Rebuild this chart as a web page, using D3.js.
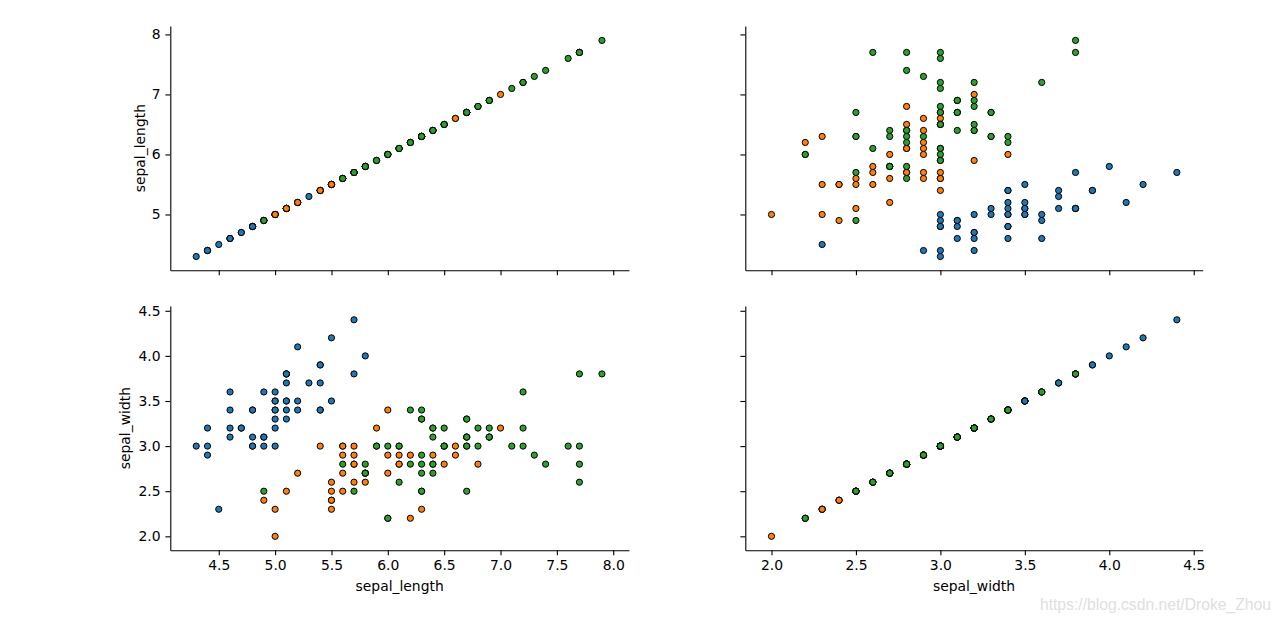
<!DOCTYPE html>
<html>
<head>
<meta charset="utf-8">
<script src="https://cdn.jsdelivr.net/npm/d3@7"></script>
<style>
  body { margin: 0; background: #fff; }
  svg { display: block; }
</style>
</head>
<body>
<svg id="chart" width="1280" height="623"></svg>
<script>
// iris: sepal_length / sepal_width per species
const species = ['setosa', 'versicolor', 'virginica'];
const colors = ['#1f77b4', '#ff7f0e', '#2ca02c'];

const setosaLength = [5.1,4.9,4.7,4.6,5.0,5.4,4.6,5.0,4.4,4.9,5.4,4.8,4.8,4.3,5.8,5.7,5.4,5.1,5.7,5.1,5.4,5.1,4.6,5.1,4.8,5.0,5.0,5.2,5.2,4.7,4.8,5.4,5.2,5.5,4.9,5.0,5.5,4.9,4.4,5.1,5.0,4.5,4.4,5.0,5.1,4.8,5.1,4.6,5.3,5.0];
const setosaWidth = [3.5,3.0,3.2,3.1,3.6,3.9,3.4,3.4,2.9,3.1,3.7,3.4,3.0,3.0,4.0,4.4,3.9,3.5,3.8,3.8,3.4,3.7,3.6,3.3,3.4,3.0,3.4,3.5,3.4,3.2,3.1,3.4,4.1,4.2,3.1,3.2,3.5,3.6,3.0,3.4,3.5,2.3,3.2,3.5,3.8,3.0,3.8,3.2,3.7,3.3];

const versicolorLength = [7.0,6.4,6.9,5.5,6.5,5.7,6.3,4.9,6.6,5.2,5.0,5.9,6.0,6.1,5.6,6.7,5.6,5.8,6.2,5.6,5.9,6.1,6.3,6.1,6.4,6.6,6.8,6.7,6.0,5.7,5.5,5.5,5.8,6.0,5.4,6.0,6.7,6.3,5.6,5.5,5.5,6.1,5.8,5.0,5.6,5.7,5.7,6.2,5.1,5.7];
const versicolorWidth = [3.2,3.2,3.1,2.3,2.8,2.8,3.3,2.4,2.9,2.7,2.0,3.0,2.2,2.9,2.9,3.1,3.0,2.7,2.2,2.5,3.2,2.8,2.5,2.8,2.9,3.0,2.8,3.0,2.9,2.6,2.4,2.4,2.7,2.7,3.0,3.4,3.1,2.3,3.0,2.5,2.6,3.0,2.6,2.3,2.7,3.0,2.9,2.9,2.5,2.8];

const virginicaLength = [6.3,5.8,7.1,6.3,6.5,7.6,4.9,7.3,6.7,7.2,6.5,6.4,6.8,5.7,5.8,6.4,6.5,7.7,7.7,6.0,6.9,5.6,7.7,6.3,6.7,7.2,6.2,6.1,6.4,7.2,7.4,7.9,6.4,6.3,6.1,7.7,6.3,6.4,6.0,6.9,6.7,6.9,5.8,6.8,6.7,6.7,6.3,6.5,6.2,5.9];
const virginicaWidth = [3.3,2.7,3.0,2.9,3.0,3.0,2.5,2.9,2.5,3.6,3.2,2.7,3.0,2.5,2.8,3.2,3.0,3.8,2.6,2.2,3.2,2.8,2.8,2.7,3.3,3.2,2.8,3.0,2.8,3.0,2.8,3.8,2.8,2.8,2.6,3.0,3.4,3.1,3.0,3.1,3.1,3.1,2.7,3.2,3.3,3.0,2.5,3.0,3.4,3.0];

const variables = ['sepal_length', 'sepal_width'];
const lengthTicks = [4.5, 5.0, 5.5, 6.0, 6.5, 7.0, 7.5, 8.0];
const lengthTicksY = [5, 6, 7, 8];
const widthTicks = [2.0, 2.5, 3.0, 3.5, 4.0, 4.5];

const rows = [
  { sp: 'setosa', len: setosaLength, wid: setosaWidth },
  { sp: 'versicolor', len: versicolorLength, wid: versicolorWidth },
  { sp: 'virginica', len: virginicaLength, wid: virginicaWidth }
];
const data = [];
rows.forEach(r => r.len.forEach((v, i) => data.push({
  species: r.sp, sepal_length: v, sepal_width: r.wid[i]
})));

const color = d3.scaleOrdinal().domain(species).range(colors);

const domains = { sepal_length: [4.07, 8.14], sepal_width: [1.845, 4.553] };
const colX = [[170.3, 629], [745.3, 1202.7]];
const rowY = [[26, 270.3], [306, 550.3]];

const svg = d3.select('#chart');
const font = 'DejaVu Sans, sans-serif';

const xScales = variables.map((v, j) => d3.scaleLinear().domain(domains[v]).range(colX[j]));
const yScales = variables.map((v, i) => d3.scaleLinear().domain(domains[v]).range([rowY[i][1], rowY[i][0]]));

function styleAxis(g) {
  g.select('.domain').attr('stroke', '#000').attr('stroke-width', 1.1);
  g.selectAll('.tick line').attr('stroke', '#000').attr('stroke-width', 1.1);
  g.selectAll('.tick text').attr('fill', '#000').style('font-family', font).style('font-size', '13.9px');
}

variables.forEach((yv, i) => {
  variables.forEach((xv, j) => {
    const x = xScales[j], y = yScales[i];
    const cell = svg.append('g');

    const xt = j === 0 ? lengthTicks : widthTicks;
    const yt = i === 0 ? lengthTicksY : widthTicks;

    const xAxis = d3.axisBottom(x).tickValues(xt).tickSize(4.9).tickPadding(4.9)
      .tickSizeOuter(0).tickFormat(i === 1 ? d3.format('.1f') : '');
    cell.append('g').attr('transform', `translate(0,${rowY[i][1]})`).call(xAxis).call(styleAxis);

    const yAxis = d3.axisLeft(y).tickValues(yt).tickSize(4.9).tickPadding(4.9)
      .tickSizeOuter(0).tickFormat(j === 0 ? (i === 0 ? d3.format('d') : d3.format('.1f')) : '');
    cell.append('g').attr('transform', `translate(${colX[j][0]},0)`).call(yAxis).call(styleAxis);

    cell.append('g').selectAll('circle')
      .data(data)
      .join('circle')
      .attr('cx', d => x(d[xv]))
      .attr('cy', d => y(d[yv]))
      .attr('r', 3.1)
      .attr('fill', d => color(d.species))
      .attr('stroke', '#000')
      .attr('stroke-width', 1);
  });
});

// axis labels
variables.forEach((v, j) => {
  svg.append('text')
    .attr('x', (colX[j][0] + colX[j][1]) / 2)
    .attr('y', 591)
    .attr('text-anchor', 'middle')
    .style('font-family', font).style('font-size', '13.9px')
    .text(v);
});
const ylabX = [145, 130];
variables.forEach((v, i) => {
  const cy = (rowY[i][0] + rowY[i][1]) / 2;
  svg.append('text')
    .attr('transform', `translate(${ylabX[i]},${cy}) rotate(-90)`)
    .attr('text-anchor', 'middle')
    .style('font-family', font).style('font-size', '13.9px')
    .text(v);
});

// watermark
svg.append('text')
  .attr('x', 1271)
  .attr('y', 610)
  .attr('text-anchor', 'end')
  .attr('fill', '#e0e0e0')
  .style('font-family', 'Liberation Sans, Arial, sans-serif')
  .style('font-size', '15.7px')
  .text('https://blog.csdn.net/Droke_Zhou');
</script>
</body>
</html>
